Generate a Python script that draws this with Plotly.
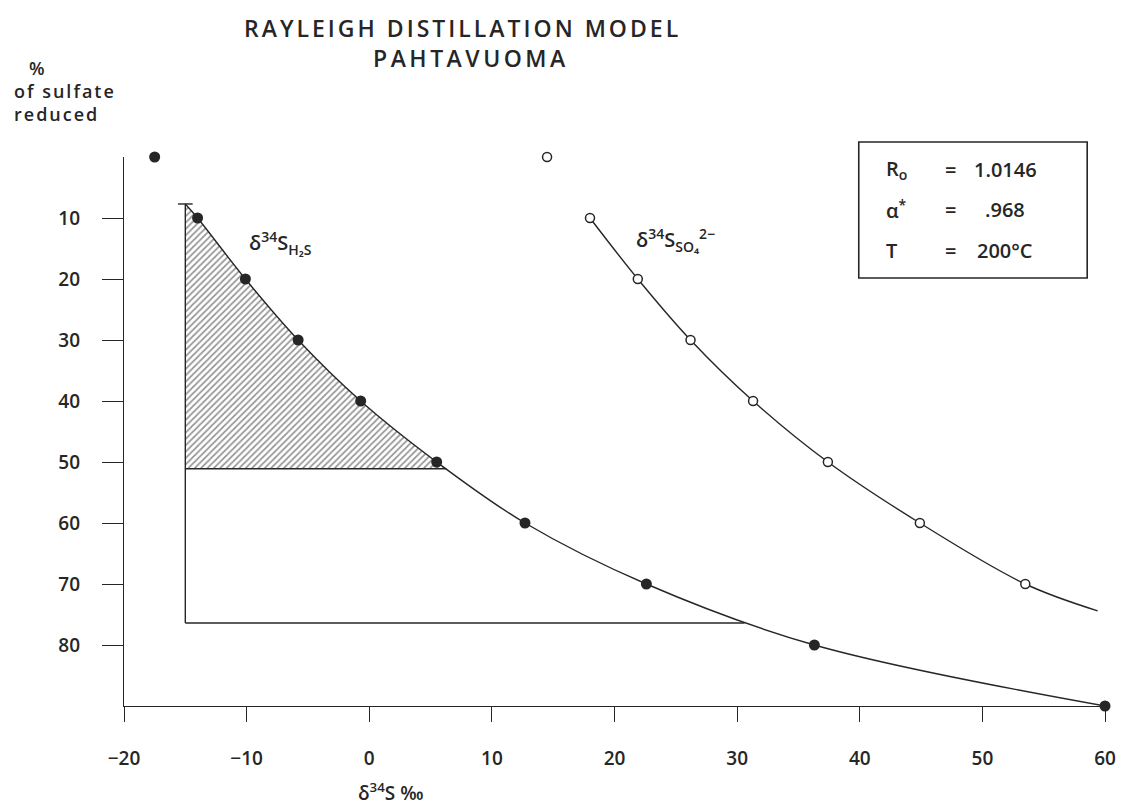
import plotly.graph_objects as go

# Rayleigh distillation model, Pahtavuoma
# Percent of sulfate reduced vs. delta-34S (per mil)
h2s_pct = [0, 10, 20, 30, 40, 50, 60, 70, 80, 90]
h2s_d34 = [-17.5, -14.0, -10.1, -5.8, -0.7, 5.5, 12.7, 22.6, 36.3, 60.0]

so4_pct = [0, 10, 20, 30, 40, 50, 60, 70]
so4_d34 = [14.5, 18.0, 21.9, 26.2, 31.3, 37.4, 44.9, 53.5]

# Model curves
h2s_curve_d34 = [-15.0, -14.0, -10.1, -5.8, -0.7, 5.5, 12.7, 22.6, 36.3, 60.0]
h2s_curve_pct = [7.7, 10, 20, 30, 40, 50, 60, 70, 80, 90]
so4_curve_d34 = [18.0, 21.9, 26.2, 31.3, 37.4, 44.9, 53.5, 59.4]
so4_curve_pct = [10, 20, 30, 40, 50, 60, 70, 74.4]

# Observed range of ore sulfide values and the bracket drawn from it
obs_d34_min = -15.0
hatch_pct = 51.1
hatch_d34_end = 6.3
bracket_pct = 76.4
bracket_d34_end = 30.6
cap_pct = 7.7

# Model parameters
params = [("R<sub>o</sub>", "1.0146"), ("α<sup>*</sup>", ".968"), ("T", "200°C")]

x_ticks = [-20, -10, 0, 10, 20, 30, 40, 50, 60]
y_ticks = [10, 20, 30, 40, 50, 60, 70, 80]

INK = "#262626"
FONT = "Open Sans"
WEIGHT = 600

W, H = 1128, 812
L, R, T, B = 124, 1116, 157, 706


def px(x):
    return (x - L) / (R - L)


def py(y):
    return (B - y) / (B - T)


def spaced(s, sp):
    return f'<span style="letter-spacing:{sp}px">{s}</span>'


fig = go.Figure()

# hatched area between the H2S curve and the 51% line
hatch_x = [d for d in h2s_curve_d34 if d <= 5.5] + [hatch_d34_end]
hatch_y = h2s_curve_pct[:len(hatch_x) - 1] + [hatch_pct]
fig.add_trace(go.Scatter(
    x=[obs_d34_min, hatch_d34_end], y=[hatch_pct, hatch_pct],
    mode="lines", line=dict(width=0), hoverinfo="skip", showlegend=False))
fig.add_trace(go.Scatter(
    x=hatch_x, y=hatch_y, mode="lines", line=dict(width=0, shape="spline"),
    fill="tonexty", fillcolor="rgba(255,255,255,0)",
    fillpattern=dict(shape="/", fgcolor=INK, bgcolor="white", size=4.5, solidity=0.38),
    hoverinfo="skip", showlegend=False))

# curves
fig.add_trace(go.Scatter(
    x=h2s_curve_d34, y=h2s_curve_pct, mode="lines",
    line=dict(color=INK, width=1.4, shape="spline"), showlegend=False))
fig.add_trace(go.Scatter(
    x=so4_curve_d34, y=so4_curve_pct, mode="lines",
    line=dict(color=INK, width=1.4, shape="spline"), showlegend=False))

# data points
fig.add_trace(go.Scatter(
    x=h2s_d34, y=h2s_pct, mode="markers", cliponaxis=False,
    marker=dict(size=11, color=INK), showlegend=False))
fig.add_trace(go.Scatter(
    x=so4_d34, y=so4_pct, mode="markers", cliponaxis=False,
    marker=dict(size=9, color="white", line=dict(color=INK, width=1.5)),
    showlegend=False))

line_style = dict(color=INK, width=1.4)
shapes = [
    # vertical bracket line and cap
    dict(type="line", xref="x", yref="y", x0=obs_d34_min, x1=obs_d34_min,
         y0=cap_pct, y1=bracket_pct, line=line_style),
    dict(type="line", xref="x", yref="y", x0=obs_d34_min - 0.6, x1=obs_d34_min + 0.6,
         y0=cap_pct, y1=cap_pct, line=line_style),
    dict(type="line", xref="x", yref="y", x0=obs_d34_min, x1=hatch_d34_end,
         y0=hatch_pct, y1=hatch_pct, line=line_style),
    dict(type="line", xref="x", yref="y", x0=obs_d34_min, x1=bracket_d34_end,
         y0=bracket_pct, y1=bracket_pct, line=line_style),
    # longer tick at zero
    dict(type="line", xref="x", yref="y", xsizemode="scaled", ysizemode="pixel",
         yanchor=90, x0=0, x1=0, y0=0, y1=-31, line=line_style),
    # parameter box
    dict(type="rect", xref="paper", yref="paper", x0=px(867), x1=px(1098),
         y0=py(278), y1=py(142), line=dict(color=INK, width=1.6)),
]

ann = []


def text(x, y, s, size=18, xanchor="center", yanchor="middle"):
    ann.append(dict(x=px(x), y=py(y), xref="paper", yref="paper", text=s,
                    showarrow=False, xanchor=xanchor, yanchor=yanchor,
                    font=dict(family=FONT, size=size, color=INK, weight=WEIGHT)))


text(466, 28, spaced("RAYLEIGH DISTILLATION MODEL", 3), size=23)
text(475, 58, spaced("PAHTAVUOMA", 3.5), size=23)

text(36, 68, "%", size=18)
text(11, 91, spaced("of sulfate", 2), size=18, xanchor="left")
text(11, 114, spaced("reduced", 2), size=18, xanchor="left")

text(394, 792, "δ<sup>34</sup>S ‰", size=19)

text(248, 243, "δ<sup>34</sup>S<sub>H₂S</sub>", size=20, xanchor="left")
text(640, 240, "δ<sup>34</sup>S<sub>SO₄</sub><sup>2−</sup>", size=20, xanchor="left")

row_y = [169, 210, 250]
for (name, val), yy in zip(params, row_y):
    text(893, yy, name, size=20, xanchor="left")
    text(960, yy, "=", size=20)
    text(1015, yy, val, size=20)

tick_font = dict(family=FONT, size=19, color=INK, weight=WEIGHT)
fig.update_layout(
    width=W, height=H,
    margin=dict(l=L, r=W - R, t=T, b=H - B),
    paper_bgcolor="white", plot_bgcolor="white",
    shapes=shapes, annotations=ann,
    font=dict(family=FONT, color=INK),
    xaxis=dict(range=[-20, 60], tickvals=x_ticks,
               ticktext=[str(v).replace("-", "−") for v in x_ticks],
               showgrid=False, zeroline=False, showline=True, linecolor=INK,
               linewidth=1.4, ticks="outside", ticklen=15, tickwidth=1.4,
               tickcolor=INK, ticklabelstandoff=20, tickfont=tick_font),
    yaxis=dict(range=[90, 0], tickvals=y_ticks,
               showgrid=False, zeroline=False, showline=True, linecolor=INK,
               linewidth=1.4, ticks="outside", ticklen=21, tickwidth=1.4,
               tickcolor=INK, ticklabelstandoff=18, tickfont=tick_font),
)

fig.write_html("out.html")
